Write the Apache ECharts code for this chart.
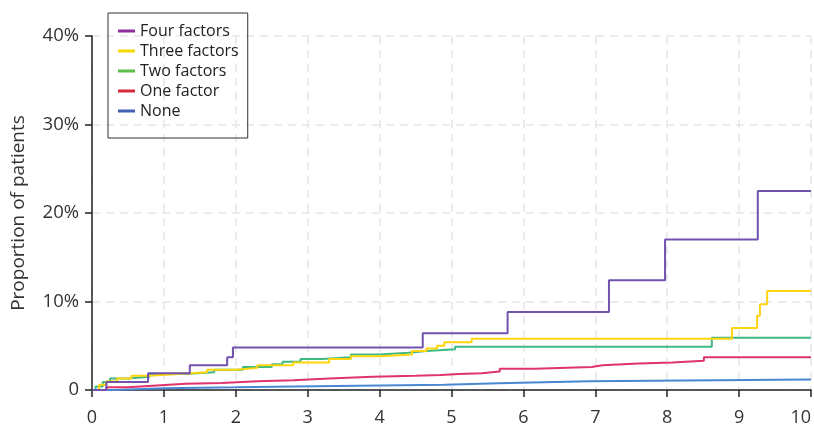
<!DOCTYPE html>
<html>
<head>
<meta charset="utf-8">
<script src="https://cdn.jsdelivr.net/npm/echarts@6/dist/echarts.min.js"></script>
<style>html,body{margin:0;padding:0;background:#fff}#c{width:814px;height:432px}</style>
</head>
<body>
<div id="c"></div>
<script>
const seriesNames = ['Four factors', 'Three factors', 'Two factors', 'One factor', 'None'];
const xTicks = [0, 1, 2, 3, 4, 5, 6, 7, 8, 9, 10];
const yTicks = [0, 10, 20, 30, 40];

const fourFactors = [[0,0],[0.2,0.9],[0.78,1.9],[1.36,2.8],[1.88,3.7],[1.96,4.8],[4.6,6.4],[5.78,8.8],[7.19,12.4],[7.97,17.0],[9.26,22.5],[10,22.5]];
const threeFactors = [[0,0],[0.1,0.6],[0.2,1.0],[0.35,1.3],[0.55,1.6],[0.8,1.8],[1.2,2.0],[1.6,2.3],[2.0,2.5],[2.3,2.8],[2.8,3.1],[3.3,3.5],[3.6,3.8],[4.0,4.0],[4.45,4.4],[4.65,4.7],[4.8,5.0],[4.9,5.4],[5.28,5.8],[8.9,7.0],[9.25,8.4],[9.29,9.7],[9.39,11.2],[10,11.2]];
const twoFactors = [[0,0],[0.05,0.4],[0.15,0.9],[0.25,1.3],[0.5,1.5],[0.8,1.8],[1.3,2.0],[1.7,2.3],[2.1,2.6],[2.5,2.9],[2.65,3.2],[2.9,3.5],[3.2,3.7],[3.6,4.0],[4.0,4.2],[4.4,4.4],[4.65,4.6],[5.05,4.9],[8.62,5.9],[10,5.9]];
const oneFactor = [[0,0],[0.2,0.3],[0.5,0.5],[0.9,0.7],[1.3,0.8],[1.8,1.0],[2.3,1.1],[2.8,1.3],[3.3,1.5],[3.9,1.6],[4.5,1.7],[4.85,1.8],[5.1,1.9],[5.42,2.1],[5.67,2.4],[6.16,2.6],[6.95,2.8],[7.1,3.0],[7.6,3.1],[8.07,3.3],[8.51,3.7],[10,3.7]];
const none = [[0,0],[0.3,0.2],[1.0,0.3],[2.0,0.4],[2.8,0.5],[4.0,0.6],[4.9,0.75],[5.65,0.85],[6.12,1.0],[6.91,1.2],[10,1.2]];

const lineColors = ['#7152ae', '#ffd50d', '#3db982', '#e0336a', '#4a87d1'];
const legendColors = ['#8e2d9b', '#f5d800', '#5bbf4a', '#d42a3a', '#4261b6'];
const dataSets = [fourFactors, threeFactors, twoFactors, oneFactor, none];

const font = '"Open Sans", "DejaVu Sans", sans-serif';
const chart = echarts.init(document.getElementById('c'), null, {renderer: 'canvas'});

chart.setOption({
  animation: false,
  backgroundColor: '#fff',
  grid: {left: 92, right: 3, top: 36, bottom: 42, containLabel: false, outerBoundsMode: 'none'},
  legend: {
    orient: 'vertical',
    left: 108, top: 13,
    padding: [10, 9, 19, 10],
    borderColor: '#333', borderWidth: 1,
    itemWidth: 17, itemHeight: 3, itemGap: 4,
    icon: 'rect',
    textStyle: {fontFamily: font, fontSize: 16, color: '#222', lineHeight: 15},
    data: seriesNames.map((n, i) => ({name: n, itemStyle: {color: legendColors[i]}}))
  },
  xAxis: {
    type: 'value', min: 0, max: 10, interval: 1,
    offset: 14,
    axisLine: {show: true, lineStyle: {color: '#222', width: 1.5}},
    axisTick: {show: true, length: 7, lineStyle: {color: '#222', width: 1.5}},
    axisLabel: {fontFamily: font, fontSize: 18, color: '#333', margin: 5, alignMaxLabel: 'right',
      formatter: v => xTicks.includes(v) ? String(v) : ''},
    splitLine: {show: true, lineStyle: {color: '#e6e6e6', type: [8, 6], width: 1.5}}
  },
  yAxis: {
    type: 'value', min: 0, max: 40, interval: 10,
    offset: 4,
    name: 'Proportion of patients',
    nameLocation: 'middle', nameGap: 60, nameRotate: 90,
    nameTextStyle: {fontFamily: font, fontSize: 19, color: '#333'},
    axisLine: {show: true, lineStyle: {color: '#222', width: 1.5}},
    axisTick: {show: true, length: 7, lineStyle: {color: '#222', width: 1.5}},
    axisLabel: {fontFamily: font, fontSize: 18.5, color: '#333', margin: 9,
      formatter: v => yTicks.includes(v) ? (v === 0 ? '0' : v + '%') : ''},
    splitLine: {show: true, lineStyle: {color: '#e6e6e6', type: [8, 6], width: 1.5}}
  },
  series: seriesNames.map((n, i) => ({
    name: n, type: 'line', step: 'end', showSymbol: false, symbol: 'none',
    color: lineColors[i],
    lineStyle: {width: 2, color: lineColors[i]},
    z: 10 - i,
    data: dataSets[i]
  }))
});
</script>
</body>
</html>
